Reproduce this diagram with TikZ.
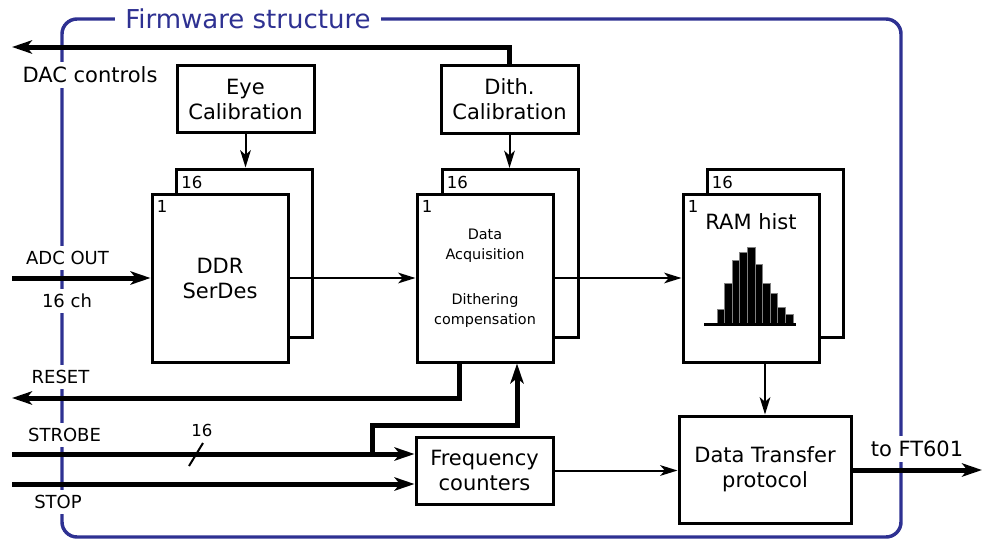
\documentclass[tikz,border=0pt]{standalone}
\usepackage{fontspec}
\setmainfont{DejaVu Sans}
\usepackage{xcolor}
\usetikzlibrary{arrows.meta}

\definecolor{fwblue}{RGB}{46,49,146}
\newlength{\unitpx}
\setlength{\unitpx}{0.75pt}

\begin{document}
\begin{tikzpicture}[x=0.75pt, y=-0.75pt,
    block/.style={draw, line width=2.25pt, fill=white, align=center, inner sep=0pt,
        font=\fontsize{15.75}{18.75}\selectfont},
    calib/.style={block, minimum width=137\unitpx, minimum height=67\unitpx},
    unit/.style={block, minimum width=136\unitpx, minimum height=168\unitpx},
    idx/.style={anchor=north west, inner sep=0pt, xshift=6\unitpx, yshift=-8\unitpx,
        font=\fontsize{12.4}{14}\selectfont},
    sig/.style={fill=white, inner sep=4pt, font=\fontsize{13.5}{16}\selectfont},
    bigsig/.style={fill=white, inner sep=4pt, font=\fontsize{15.75}{18}\selectfont},
    thinarrow/.style={line width=1.5pt, -{Stealth[length=13pt, width=8pt, inset=3.5pt]}},
    thickarrow/.style={line width=3.75pt, -{Stealth[length=15pt, width=10pt, inset=4pt]}},
    frame/.style={draw=fwblue, line width=2.6pt, rounded corners=15\unitpx},
    ]
    \useasboundingbox (0,0) rectangle (984,539);

    % firmware frame
    \draw[frame] (62,19) rectangle (901,537);
    \node[fill=white, text=fwblue, inner xsep=10\unitpx, inner ysep=2pt,
        font=\fontsize{19.5}{22}\selectfont] (fwtitle) at (248,19) {Firmware structure};

    % signal names
    \node[bigsig] (daclbl) at (90,75) {DAC controls};
    \node[sig] (adclbl) at (67.5,258) {ADC OUT};
    \node[sig] (chlbl) at (67,301) {16 ch};
    \node[sig] (rstlbl) at (60.5,377) {RESET};
    \node[sig] (strlbl) at (64.5,435) {STROBE};
    \node[sig] (stoplbl) at (58,502) {STOP};
    \node[bigsig] (ftlbl) at (917,449) {to FT601};
    \node[font=\fontsize{12.4}{14}\selectfont] (buswidth) at (202,430) {16};

    % calibration blocks
    \node[calib] (eye) at (245.5,99) {Eye\\Calibration};
    \node[calib, minimum height=68\unitpx] (dith) at (509.5,99) {Dith.\\Calibration};

    % stacked channel blocks
    \node[unit] (ddrB) at (244.5,253) {};
    \node[unit] (ddr) at (220,278) {DDR\\SerDes};
    \node[unit] (daqB) at (510,253.5) {};
    \node[unit, font=\fontsize{10.8}{15}\selectfont] (daq) at (485,278)
        {Data\\Acquisition\\[18.75pt]Dithering\\compensation};
    \node[unit] (ramB) at (775,253) {};
    \node[unit] (ram) at (751,278) {};
    \node[font=\fontsize{15.75}{18}\selectfont] (ramtxt) at (751,222) {RAM hist};

    \node[idx] (ddrBn) at (ddrB.north west) {16};
    \node[idx] (ddrn) at (ddr.north west) {1};
    \node[idx] (daqBn) at (daqB.north west) {16};
    \node[idx] (daqn) at (daq.north west) {1};
    \node[idx] (ramBn) at (ramB.north west) {16};
    \node[idx] (ramn) at (ram.north west) {1};

    % histogram
    \foreach \h [count=\i from 0] in {309,283,260,252,247,264,283,293,307,314}
        \filldraw[fill=black, draw=gray, line width=0.6pt] ({717+7.6*\i},324) rectangle ({724.6+7.6*\i},\h);
    \draw[line width=2.25pt] (704,324) -- (796,324);

    % lower blocks
    \node[calib] (freq) at (484.5,470.5) {Frequency\\counters};
    \node[block, minimum width=172\unitpx, minimum height=107\unitpx] (dtp) at (765,469.5)
        {Data Transfer\\protocol};

    % outside ends
    \coordinate (adcin) at (12,278);
    \coordinate (dacout) at (12,47);
    \coordinate (resetout) at (12,398);
    \coordinate (strobein) at (12,454);
    \coordinate (stopin) at (12,484);
    \coordinate (branch) at (372,454);
    \coordinate (ftout) at (982,470);

    % connections
    \draw[thinarrow] (eye.south) -- (eye.south |- ddrB.north);
    \draw[thinarrow] (dith.south) -- (dith.south |- daqB.north);
    \draw[thinarrow] (ddr) -- (daq);
    \draw[thinarrow] (daq) -- (ram);
    \draw[thinarrow] (ram.south -| dtp.north) -- (dtp.north);
    \draw[thinarrow] (freq) -- (freq -| dtp.west);

    \draw[thickarrow] (adcin) -- (ddr.west);
    \draw[thickarrow] (dith.north) |- (dacout);
    \draw[thickarrow] ([xshift=-26\unitpx]daq.south) |- (resetout);
    \draw[thickarrow] (strobein) -- (strobein -| freq.west);
    \draw[thickarrow] (stopin) -- (stopin -| freq.west);
    \draw[thickarrow] (branch) -- ++(0,-29) -| ([xshift=32\unitpx]daq.south);
    \draw[thickarrow] (dtp.east |- ftout) -- (ftout);
    \draw[line width=1.5pt] (189,466) -- (203,443);
\end{tikzpicture}
\end{document}
